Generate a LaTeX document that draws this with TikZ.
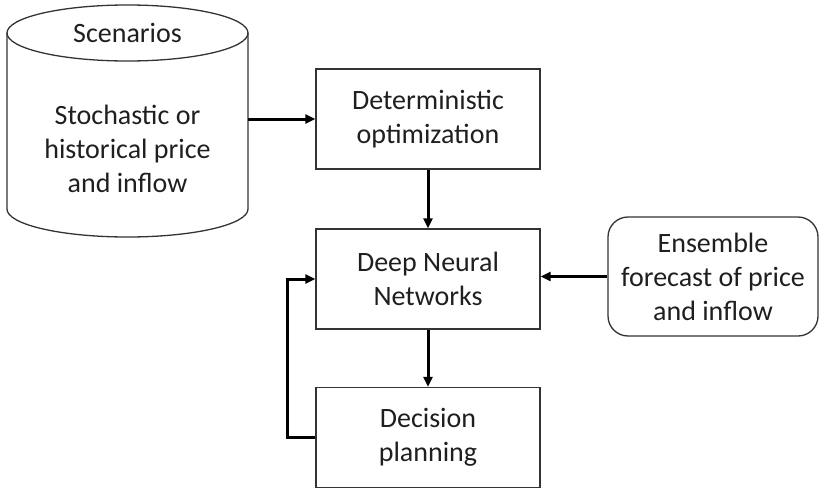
\documentclass[tikz,border=0pt]{standalone}
\usepackage{fontspec}
\setmainfont{Carlito}
\usetikzlibrary{arrows.meta}
\begin{document}
\begin{tikzpicture}[x=1pt,y=-1pt,
  every node/.style={font=\fontsize{28}{34}\selectfont,align=center,text=black!88},
  block/.style={draw=black!80,line width=1.3pt,minimum width=224pt,minimum height=100pt},
  flow/.style={line width=3pt,-{Triangle[length=10pt,width=9pt]}}]
\useasboundingbox (0,0) rectangle (820,490);
% scenario store drawn as a cylinder
\draw[draw=black!80,line width=1.3pt] (7,33) -- (7,209)
  arc[start angle=180,end angle=360,x radius=120.5pt,y radius=28pt] -- (248,33);
\draw[draw=black!80,line width=1.3pt] (127.5,33) ellipse[x radius=120.5pt,y radius=28pt];
\node (scen) at (127.5,33) {Scenarios};
\node (scentxt) at (127.5,149) {Stochastic or\\historical price\\and inflow};
\coordinate (scenout) at (248,119);
% main chain
\node[block] (det) at (428,119) {Deterministic\\optimization};
\node[block] (dnn) at (428,279) {Deep Neural\\Networks};
\node[block] (dec) at (428,437.5) {Decision\\planning};
% ensemble forecast
\node[draw=black!80,line width=1.3pt,rounded corners=20pt,minimum width=210pt,minimum height=119pt]
  (ens) at (713,276.5) {Ensemble\\forecast of price\\and inflow};
% connectors
\draw[flow] (scenout) -- (det.west);
\draw[flow] (det.south) -- (dnn.north);
\draw[flow] (dnn.south) -- (dec.north);
\draw[flow] (ens.west) -- (dnn.east |- ens.west);
\draw[flow] (dec.west) -- ++(-28,0) |- (dnn.west);
\end{tikzpicture}
\end{document}
